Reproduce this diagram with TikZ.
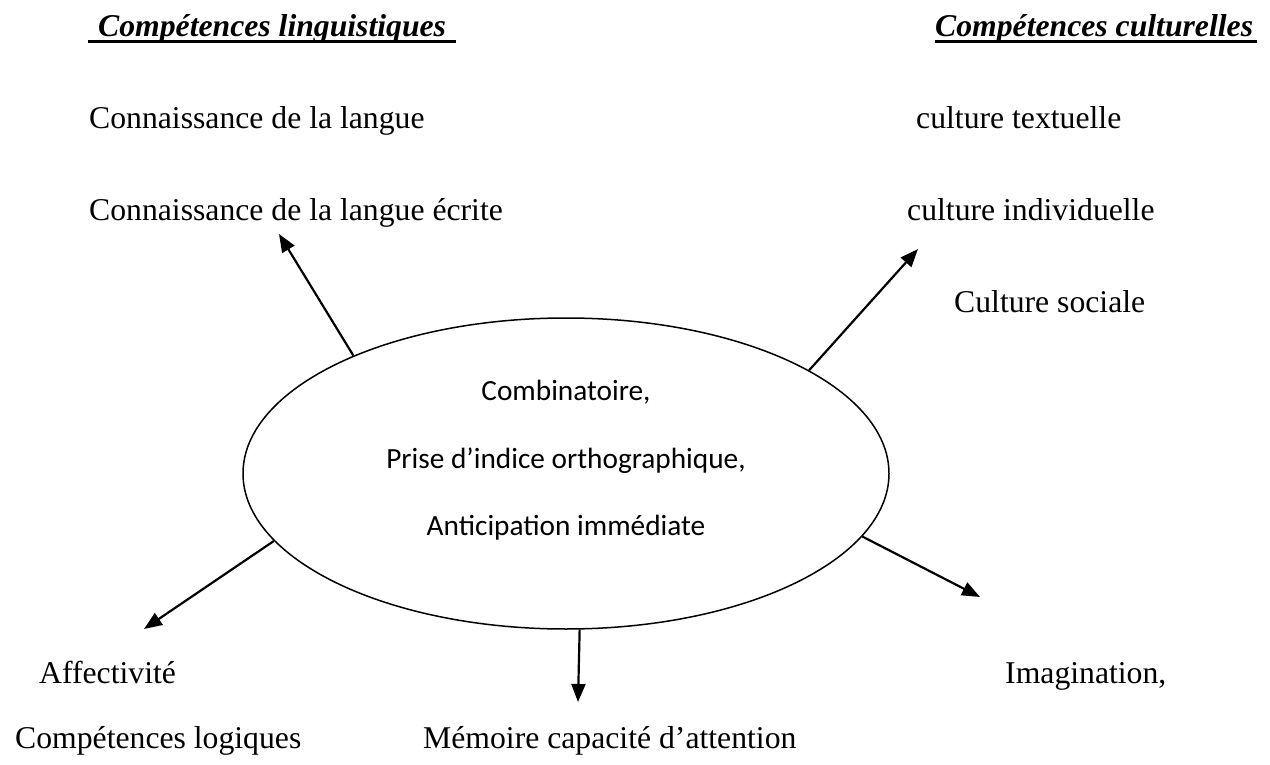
\documentclass[tikz,border=0pt]{standalone}
\usepackage{fontspec}
\setmainfont{Liberation Serif}
\newfontfamily\calib{Carlito}
\usetikzlibrary{shapes.geometric,arrows.meta}
\tikzset{
  lbl/.style={anchor=base west,inner sep=0pt,font=\fontsize{31.7}{38}\selectfont},
  head/.style={anchor=base west,inner sep=0pt,font=\fontsize{31.7}{38}\selectfont\bfseries\itshape},
  inner/.style={anchor=base,inner sep=0pt,font=\calib\fontsize{29.3}{35}\selectfont},
  uline/.style={line width=3pt},
  arr/.style={line width=2.2pt,-{Triangle[length=18pt,width=14pt]}},
  oval/.style={ellipse,draw,line width=1.5pt,minimum width=646pt,minimum height=311pt,inner sep=0pt}
}
\begin{document}
\begin{tikzpicture}[x=1pt,y=-1pt]
\useasboundingbox (0,0) rectangle (1270,765);
% headings
\node[head] (h1) at (98,37) {Compétences linguistiques};
\node[head] (h2) at (935,37) {Compétences culturelles};
\draw[uline] (88,41.7) -- (456,41.7);
\draw[uline] (935,41.7) -- (1257,41.7);
% left texts
\node[lbl] (t1) at (89,129) {Connaissance de la langue};
\node[lbl] (t2) at (89,220) {Connaissance de la langue écrite};
% right texts
\node[lbl] (t3) at (916,129) {culture textuelle};
\node[lbl] (t4) at (907,220) {culture individuelle};
\node[lbl] (t5) at (954,312) {Culture sociale};
% bottom texts
\node[lbl] (t6) at (39,683) {Affectivité};
\node[lbl] (t7) at (15,748) {Compétences logiques};
\node[lbl] (t8) at (423,748) {Mémoire capacité d’attention};
\node[lbl] (t9) at (1005,683) {Imagination,};
% ellipse
\node[oval] (ell) at (566,473.5) {};
\node[inner] (c1) at (566,400) {Combinatoire,};
\node[inner] (c2) at (566,468) {Prise d’indice orthographique,};
\node[inner] (c3) at (566,535) {Anticipation immédiate};
% arrow ends
\coordinate (eUL) at (279,234);
\coordinate (eUR) at (918,249);
\coordinate (eLR) at (980,597);
\coordinate (eLL) at (144,629);
\coordinate (eB) at (578,702);
\draw[arr] (ell.151) -- (eUL);
\draw[arr] (ell.23.9) -- (eUR);
\draw[arr] (ell.-12.8) -- (eLR);
\draw[arr] (ell.193) -- (eLL);
\draw[arr] (ell.-85.6) -- (eB);
\end{tikzpicture}
\end{document}
